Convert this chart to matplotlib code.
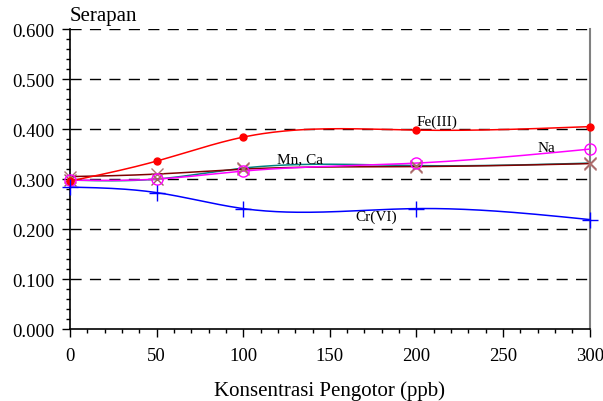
import numpy as np
import matplotlib.pyplot as plt
from matplotlib.ticker import MultipleLocator, FormatStrFormatter

# DATA
konsentrasi = [0, 50, 100, 200, 300]
fe = [0.296, 0.336, 0.384, 0.398, 0.405]
na = [0.298, 0.300, 0.316, 0.332, 0.360]
mn = [0.305, 0.310, 0.320, 0.325, 0.331]
ca = [0.298, 0.300, 0.322, 0.327, 0.332]
cr = [0.284, 0.273, 0.241, 0.241, 0.219]


def spline(x, y, n=200):
    """natural cubic spline through the points, only for drawing the curve"""
    x = np.asarray(x, float)
    y = np.asarray(y, float)
    k = len(x)
    h = np.diff(x)
    A = np.zeros((k, k))
    b = np.zeros(k)
    A[0, 0] = A[-1, -1] = 1
    for i in range(1, k - 1):
        A[i, i - 1] = h[i - 1]
        A[i, i] = 2 * (h[i - 1] + h[i])
        A[i, i + 1] = h[i]
        b[i] = 6 * ((y[i + 1] - y[i]) / h[i] - (y[i] - y[i - 1]) / h[i - 1])
    M = np.linalg.solve(A, b)
    xs = np.linspace(x[0], x[-1], n)
    j = np.clip(np.searchsorted(x, xs) - 1, 0, k - 2)
    t0 = x[j + 1] - xs
    t1 = xs - x[j]
    hj = h[j]
    ys = (M[j] * t0**3 + M[j + 1] * t1**3) / (6 * hj) \
        + (y[j] / hj - M[j] * hj / 6) * t0 + (y[j + 1] / hj - M[j + 1] * hj / 6) * t1
    return xs, ys


plt.rcParams['font.family'] = ['Liberation Serif', 'DejaVu Serif']

fig = plt.figure(figsize=(6.03, 4.02), dpi=100)
ax = fig.add_axes([0.116, 0.179, 0.862, 0.746])

ax.set_xlim(0, 300)
ax.set_ylim(0, 0.6)

for v in [0.1, 0.2, 0.3, 0.4, 0.5, 0.6]:
    ax.axhline(v, color='black', lw=1, ls=(0, (8, 6)), zorder=1)

series = [
    (ca, '#008080', 'x', 'none', '#a06060', 9),
    (mn, '#800000', 'x', 'none', '#b07070', 9),
    (na, '#ff00ff', 'o', 'none', '#ff00ff', 8),
    (fe, '#ff0000', 'o', '#ff0000', '#ff0000', 5),
    (cr, '#0000ff', '+', 'none', '#0000ff', 11),
]
for vals, col, mk, mfc, mec, ms in series:
    xs, ys = spline(konsentrasi, vals)
    ax.plot(xs, ys, color=col, lw=1.1, zorder=3)
    ax.plot(konsentrasi, vals, ls='none', marker=mk, ms=ms, mfc=mfc, mec=mec,
            mew=1, zorder=4, clip_on=False)

ax.text(212, 0.408, 'Fe(III)', fontsize=11, ha='center', va='baseline')
ax.text(275, 0.357, 'Na', fontsize=11, ha='center', va='baseline')
ax.text(133, 0.333, 'Mn, Ca', fontsize=11, ha='center', va='baseline')
ax.text(177, 0.218, 'Cr(VI)', fontsize=11, ha='center', va='baseline')

ax.spines['top'].set_visible(False)
ax.spines['right'].set_color('gray')
ax.spines['right'].set_linewidth(1.5)
ax.spines['left'].set_linewidth(1.2)
ax.spines['bottom'].set_linewidth(1.2)

ax.xaxis.set_major_locator(MultipleLocator(50))
ax.xaxis.set_minor_locator(MultipleLocator(10))
ax.yaxis.set_major_locator(MultipleLocator(0.1))
ax.yaxis.set_minor_locator(MultipleLocator(0.02))
ax.yaxis.set_major_formatter(FormatStrFormatter('%.3f'))
ax.tick_params(which='major', length=6, width=1, labelsize=13.5, pad=5)
ax.tick_params(which='minor', length=3, width=1)
ax.tick_params(axis='x', pad=7)

ax.set_xlabel('Konsentrasi Pengotor (ppb)', fontsize=15, labelpad=12)
ax.text(0, 1.015, 'Serapan', transform=ax.transAxes, fontsize=15, ha='left', va='bottom')

fig.savefig('out.png', dpi=100)
